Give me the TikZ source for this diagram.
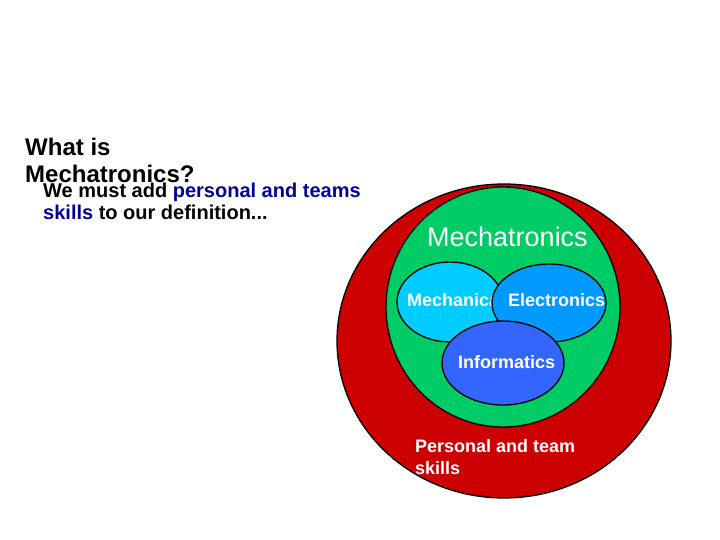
\documentclass[tikz,border=0pt]{standalone}
\usepackage{fontspec}
\setmainfont{Liberation Sans}
\usepackage{xcolor}
\usetikzlibrary{shapes.geometric}
\definecolor{skillred}{RGB}{204,0,0}
\definecolor{mechgreen}{RGB}{0,204,102}
\definecolor{mechblue}{RGB}{0,204,255}
\definecolor{elecblue}{RGB}{0,153,255}
\definecolor{infoblue}{RGB}{51,102,255}
\definecolor{textblue}{RGB}{0,0,153}
\tikzset{
  blob/.style={draw=black, line width=1.3pt, ellipse, inner sep=0pt},
  inlabel/.style={anchor=base west, inner sep=0pt, text=white, font=\fontsize{18}{22}\selectfont\bfseries},
  body/.style={anchor=base west, inner sep=0pt, align=left}
}
\begin{document}
\begin{tikzpicture}[x=1pt, y=-1pt]
\useasboundingbox (0,0) rectangle (720,540);
% circles, back to front
\node[blob, fill=skillred, minimum width=334pt, minimum height=314pt] (skills) at (504,341) {};
\node[blob, fill=mechgreen, minimum width=234pt, minimum height=240pt] (mecha) at (503,307) {};
\node[blob, fill=mechblue, minimum width=106pt, minimum height=80pt] (mech) at (450,302) {};
\node[inlabel] (mechtxt) at (407,306) {Mechanical};
\node[blob, fill=elecblue, minimum width=114pt, minimum height=78pt] (elec) at (549,303) {};
\node[inlabel] (electxt) at (508,306) {Electronics};
\node[blob, fill=infoblue, minimum width=122pt, minimum height=84pt] (info) at (503,363) {};
\node[inlabel] (infotxt) at (458,368) {Informatics};
\node[inlabel, font=\fontsize{27}{30}\selectfont] (mechatxt) at (427,246) {Mechatronics};
\node[inlabel] (skilltxt) at (415,452) {Personal and team};
\node[inlabel] (skilltxt2) at (415,474) {skills};
% text on the left
\node[body, font=\fontsize{24}{28}\selectfont\bfseries] (title) at (25,156) {What is};
\node[body, font=\fontsize{24}{28}\selectfont\bfseries] (title2) at (25,183) {Mechatronics?};
\node[body, font=\fontsize{20}{23}\selectfont\bfseries] (note) at (43,197) {We must add \textcolor{textblue}{personal and teams}};
\node[body, font=\fontsize{20}{23}\selectfont\bfseries] (note2) at (43,220) {\textcolor{textblue}{skills} to our definition...};
\end{tikzpicture}
\end{document}
